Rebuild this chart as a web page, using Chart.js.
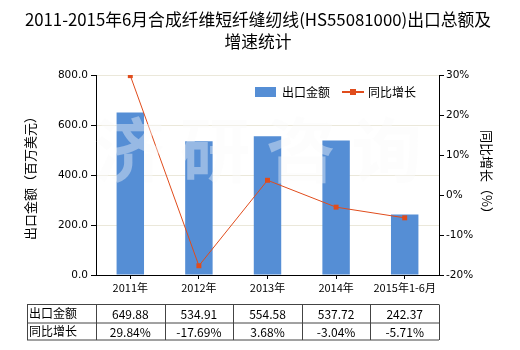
<!DOCTYPE html>
<html>
<head>
<meta charset="utf-8">
<script src="https://cdn.jsdelivr.net/npm/chart.js@4.4.1/dist/chart.umd.min.js"></script>
<style>
  html, body { margin: 0; padding: 0; background: #fff; }
  #wrap { width: 520px; height: 350px; }
</style>
</head>
<body>
<div id="wrap"><canvas id="exportChart" width="520" height="350"></canvas></div>
<script>
// Export amount (million USD) and year-on-year growth (%)
const years = ['2011年', '2012年', '2013年', '2014年', '2015年1-6月'];
const exportValues = [649.88, 534.91, 554.58, 537.72, 242.37];
const growthRates = [29.84, -17.69, 3.68, -3.04, -5.71];
const rowLabels = ['出口金额', '同比增长'];

const cjk = '"Noto Sans CJK SC", "DejaVu Sans", sans-serif';
const barColor = '#558ed5';
const lineColor = '#e04c1c';

// Title, legend, axis titles, watermark and the data table under the axis
const decorations = {
    id: 'decorations',
    beforeDatasetsDraw(chart) {
        const ctx = chart.ctx;
        ctx.save();
        ctx.fillStyle = '#000';
        ctx.textAlign = 'center';
        ctx.textBaseline = 'middle';
        ctx.font = '16.8px ' + cjk;
        ctx.fillText('2011-2015年6月合成纤维短纤缝纫线(HS55081000)出口总额及', 258, 20);
        ctx.fillText('增速统计', 258, 42);

        ctx.font = '13px ' + cjk;
        ctx.translate(30, 175);
        ctx.rotate(-Math.PI / 2);
        ctx.fillText('出口金额（百万美元）', 0, 0);
        ctx.restore();

        ctx.save();
        ctx.fillStyle = '#000';
        ctx.textAlign = 'center';
        ctx.textBaseline = 'middle';
        ctx.font = '13px ' + cjk;
        ctx.translate(487, 175);
        ctx.rotate(Math.PI / 2);
        ctx.fillText('同比增长（%）', 0, 0);
        ctx.restore();
    },
    afterDatasetsDraw(chart) {
        const ctx = chart.ctx;
        ctx.save();
        ctx.font = 'bold 70px ' + cjk;
        ctx.fillStyle = 'rgba(250,250,250,0.4)';
        ctx.textAlign = 'center';
        ctx.textBaseline = 'middle';
        ctx.fillText('济 研 咨 询', 258, 150);
        ctx.restore();
    },
    afterDraw(chart) {
        const ctx = chart.ctx;
        const x = chart.scales.x;
        ctx.save();

        // legend
        ctx.font = '12px ' + cjk;
        ctx.textBaseline = 'middle';
        ctx.fillStyle = barColor;
        ctx.fillRect(255, 87, 21, 10);
        ctx.fillStyle = '#000';
        ctx.fillText('出口金额', 282, 92);
        ctx.strokeStyle = lineColor;
        ctx.lineWidth = 2;
        ctx.beginPath();
        ctx.moveTo(342, 92);
        ctx.lineTo(364, 92);
        ctx.stroke();
        ctx.fillStyle = lineColor;
        ctx.fillRect(350, 89, 6, 6);
        ctx.fillStyle = '#000';
        ctx.fillText('同比增长', 368, 92);

        // table
        const half = (x.getPixelForValue(1) - x.getPixelForValue(0)) / 2;
        const left = 27;
        const right = x.getPixelForValue(years.length - 1) + half;
        const rows = [304.5, 323, 340];
        ctx.strokeStyle = '#444';
        ctx.lineWidth = 1;
        ctx.beginPath();
        rows.forEach(r => { ctx.moveTo(left, r); ctx.lineTo(right, r); });
        ctx.moveTo(left + 0.5, rows[0]); ctx.lineTo(left + 0.5, rows[2]);
        for (let i = 0; i < years.length; i++) {
            const cx = Math.round(x.getPixelForValue(i) - half) + 0.5;
            ctx.moveTo(cx, rows[0]); ctx.lineTo(cx, rows[2]);
        }
        ctx.moveTo(Math.round(right) + 0.5, rows[0]); ctx.lineTo(Math.round(right) + 0.5, rows[2]);
        ctx.stroke();

        ctx.font = '12px ' + cjk;
        ctx.fillStyle = '#000';
        ctx.textAlign = 'left';
        ctx.fillText(rowLabels[0], 29, 313);
        ctx.fillText(rowLabels[1], 29, 331);
        ctx.textAlign = 'center';
        years.forEach((_, i) => {
            const cx = x.getPixelForValue(i);
            ctx.fillText(exportValues[i].toFixed(2), cx, 314);
            ctx.fillText(growthRates[i].toFixed(2) + '%', cx, 332);
        });
        ctx.restore();
    }
};

new Chart(document.getElementById('exportChart'), {
    data: {
        labels: years,
        datasets: [{
            type: 'line',
            label: '同比增长',
            data: growthRates,
            yAxisID: 'y1',
            borderColor: lineColor,
            backgroundColor: lineColor,
            borderWidth: 1,
            tension: 0,
            pointStyle: 'rect',
            pointRadius: 3.5,
            pointBorderWidth: 0,
            order: 0
        }, {
            type: 'bar',
            label: '出口金额',
            data: exportValues,
            yAxisID: 'y',
            backgroundColor: barColor,
            categoryPercentage: 1,
            barPercentage: 0.4,
            order: 1
        }]
    },
    options: {
        responsive: false,
        animation: false,
        layout: { padding: { top: 75, left: 0, right: 0, bottom: 0 } },
        plugins: {
            legend: { display: false },
            tooltip: { enabled: false }
        },
        scales: {
            x: {
                afterFit: s => { s.height = 75; },
                grid: { display: true, drawOnChartArea: false, offset: false, tickLength: 4, tickColor: '#000' },
                border: { color: '#000', width: 1 },
                ticks: { color: '#000', font: { family: cjk, size: 11 }, padding: 2, maxRotation: 0 }
            },
            y: {
                position: 'left',
                min: 0,
                max: 800,
                afterFit: s => { s.width = 96; },
                grid: { color: '#ebe8da', tickLength: 5, tickColor: '#000' },
                border: { color: '#000', width: 1 },
                ticks: {
                    stepSize: 200,
                    color: '#000',
                    padding: 3,
                    font: { family: '"DejaVu Sans", sans-serif', size: 10.5 },
                    callback: v => v.toFixed(1)
                }
            },
            y1: {
                position: 'right',
                min: -20,
                max: 30,
                afterFit: s => { s.width = 81; },
                grid: { drawOnChartArea: false, tickLength: 5, tickColor: '#000' },
                border: { color: '#000', width: 1 },
                ticks: {
                    stepSize: 10,
                    color: '#000',
                    padding: 2,
                    font: { family: '"DejaVu Sans", sans-serif', size: 10.5 },
                    callback: v => v + '%'
                }
            }
        }
    },
    plugins: [decorations]
});
</script>
</body>
</html>
